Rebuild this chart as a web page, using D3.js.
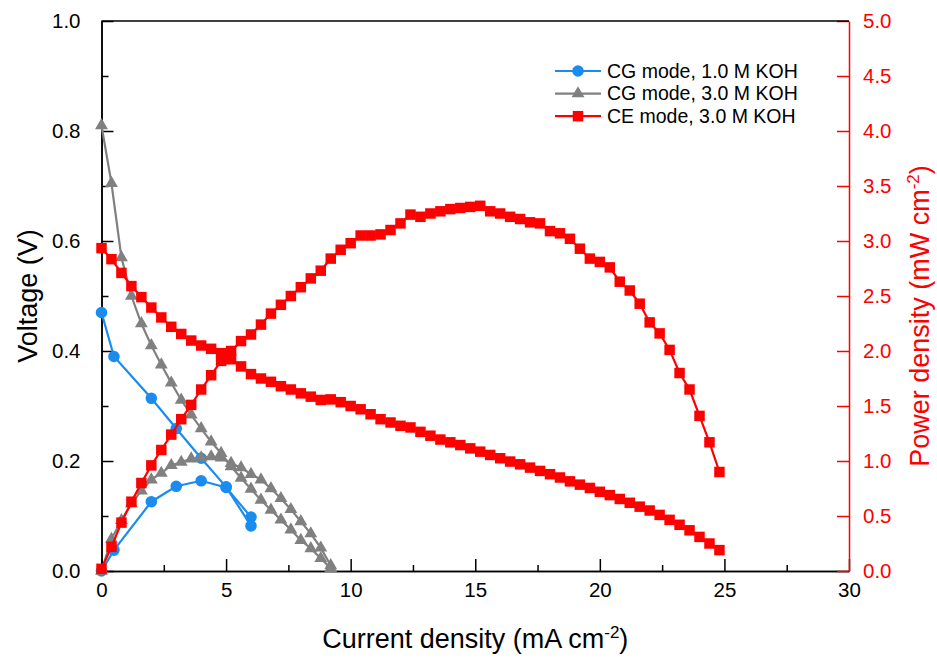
<!DOCTYPE html>
<html>
<head>
<meta charset="utf-8">
<script src="https://cdn.jsdelivr.net/npm/d3@7"></script>
<style>
  body { margin: 0; background: #fff; }
  text { font-family: "Liberation Sans", Arial, sans-serif; }
</style>
</head>
<body>
<div id="chart"></div>
<script>
// Data (current density in mA cm-2)
var blueCurrent = [0, 0.5, 2, 3, 4, 5, 6];
var blueVoltage = [0.47, 0.39, 0.314, 0.259, 0.205, 0.153, 0.082];
var bluePower = [0, 0.19, 0.63, 0.77, 0.82, 0.76, 0.49];

var grayCurrent = [0, 0.4, 0.8, 1.2, 1.6, 2.0, 2.4, 2.8, 3.2, 3.6, 4.0, 4.4, 4.8, 5.2, 5.6, 6.0, 6.4, 6.8, 7.2, 7.6, 8.0, 8.4, 8.8, 9.2];
var grayVoltage = [0.81, 0.705, 0.57, 0.50, 0.45, 0.41, 0.375, 0.342, 0.311, 0.284, 0.259, 0.235, 0.214, 0.19, 0.169, 0.149, 0.129, 0.111, 0.093, 0.075, 0.056, 0.041, 0.023, 0.005];
var grayPower = [0, 0.29, 0.46, 0.61, 0.73, 0.83, 0.89, 0.96, 0.99, 1.02, 1.03, 1.04, 1.03, 0.98, 0.94, 0.88, 0.83, 0.75, 0.66, 0.56, 0.45, 0.34, 0.21, 0.05];

var redCurrent = [0, 0.4, 0.8, 1.2, 1.6, 2.0, 2.4, 2.8, 3.2, 3.6, 4.0, 4.4, 4.8, 5.2, 5.6, 6.0, 6.4, 6.8, 7.2, 7.6,
  8.0, 8.4, 8.8, 9.2, 9.6, 10.0, 10.4, 10.8, 11.2, 11.6, 12.0, 12.4, 12.8, 13.2, 13.6, 14.0, 14.4, 14.8, 15.2, 15.6,
  16.0, 16.4, 16.8, 17.2, 17.6, 18.0, 18.4, 18.8, 19.2, 19.6, 20.0, 20.4, 20.8, 21.2, 21.6, 22.0, 22.4, 22.8, 23.2, 23.6,
  24.0, 24.4, 24.8];
var redVoltage = [0.587, 0.567, 0.542, 0.518, 0.498, 0.479, 0.461, 0.444, 0.431, 0.419, 0.410, 0.404, 0.396, 0.385, 0.372, 0.358, 0.350, 0.344, 0.336, 0.330,
  0.323, 0.317, 0.311, 0.312, 0.307, 0.300, 0.294, 0.285, 0.276, 0.270, 0.264, 0.261, 0.253, 0.246, 0.239, 0.234, 0.229, 0.223, 0.217, 0.211,
  0.205, 0.199, 0.194, 0.188, 0.182, 0.176, 0.170, 0.163, 0.157, 0.151, 0.144, 0.138, 0.131, 0.124, 0.117, 0.110, 0.102, 0.093, 0.084, 0.074,
  0.062, 0.050, 0.038];
var redPower = [0.02, 0.22, 0.44, 0.63, 0.80, 0.96, 1.10, 1.24, 1.38, 1.51, 1.65, 1.78, 1.91, 2.00, 2.09, 2.15, 2.24, 2.34, 2.42, 2.50,
  2.58, 2.66, 2.73, 2.84, 2.92, 2.98, 3.05, 3.05, 3.06, 3.10, 3.16, 3.24, 3.22, 3.25, 3.27, 3.29, 3.30, 3.31, 3.32, 3.27,
  3.25, 3.22, 3.20, 3.17, 3.16, 3.09, 3.07, 3.02, 2.93, 2.84, 2.81, 2.76, 2.63, 2.55, 2.43, 2.26, 2.16, 2.01, 1.80, 1.65,
  1.41, 1.17, 0.90];

// Tick values
var xTicks = [0, 5, 10, 15, 20, 25, 30];
var voltageTicks = [0, 0.2, 0.4, 0.6, 0.8, 1.0];
var powerTicks = [0, 0.5, 1.0, 1.5, 2.0, 2.5, 3.0, 3.5, 4.0, 4.5, 5.0];

var series = [
  {name: "CG mode, 1.0 M KOH", color: "#1a8cf0", symbol: d3.symbolCircle, size: 105, x: blueCurrent, v: blueVoltage, p: bluePower},
  {name: "CG mode, 3.0 M KOH", color: "#808080", symbol: d3.symbolTriangle, size: 72, x: grayCurrent, v: grayVoltage, p: grayPower},
  {name: "CE mode, 3.0 M KOH", color: "#ff0000", symbol: d3.symbolSquare, size: 110, x: redCurrent, v: redVoltage, p: redPower}
];

// Set svg dimensions
const width = 937;
const height = 661;
var plot = {left: 101.5, right: 849, top: 21, bottom: 571};

var svg = d3.select("#chart")
            .append("svg")
                .attr("width", width)
                .attr("height", height)
                .style("background", "#fff");

// Scales
var scaleX = d3.scaleLinear().domain([0, 30]).range([plot.left, plot.right]);
var scaleV = d3.scaleLinear().domain([0, 1]).range([plot.bottom, plot.top]);
var scaleP = d3.scaleLinear().domain([0, 5]).range([plot.bottom, plot.top]);

// Bottom axis: minor then major ticks
svg.append("g")
    .attr("transform", "translate(0," + plot.bottom + ")")
    .call(d3.axisBottom(scaleX).tickValues(d3.range(2.5, 30, 5)).tickSizeInner(-6).tickSizeOuter(0).tickFormat(""));
svg.append("g")
    .attr("class", "axisX")
    .attr("transform", "translate(0," + plot.bottom + ")")
    .call(d3.axisBottom(scaleX).tickValues(xTicks).tickSizeInner(-12).tickSizeOuter(0).tickPadding(11).tickFormat(d3.format("d")));

// Left axis
svg.append("g")
    .attr("transform", "translate(" + plot.left + ",0)")
    .call(d3.axisLeft(scaleV).tickValues(d3.range(0.1, 1, 0.2)).tickSizeInner(-7).tickSizeOuter(0).tickFormat(""));
svg.append("g")
    .attr("class", "axisY")
    .attr("transform", "translate(" + plot.left + ",0)")
    .call(d3.axisLeft(scaleV).tickValues(voltageTicks).tickSizeInner(-12).tickSizeOuter(0).tickPadding(21).tickFormat(d3.format(".1f")));

// Right axis (red)
svg.append("g")
    .attr("class", "axisP")
    .attr("transform", "translate(" + plot.right + ",0)")
    .call(d3.axisRight(scaleP).tickValues(powerTicks).tickSizeInner(-12).tickSizeOuter(0).tickPadding(14).tickFormat(d3.format(".1f")));

// Top border
svg.append("line")
    .attr("x1", plot.left).attr("x2", plot.right)
    .attr("y1", plot.top).attr("y2", plot.top)
    .attr("stroke", "#000").attr("stroke-width", 1.5);

svg.selectAll(".domain").attr("stroke-width", 1.5);
svg.selectAll(".tick line").attr("stroke-width", 1.5);
svg.selectAll(".tick text").style("font-size", "20.5px").attr("fill", "#000");
svg.selectAll(".axisP .domain, .axisP .tick line").attr("stroke", "#ff0000");
svg.selectAll(".axisP .tick text").attr("fill", "#ff0000");

// Axis titles
svg.append("text")
    .attr("x", (plot.left + plot.right) / 2)
    .attr("y", 648)
    .style("text-anchor", "middle")
    .style("font-size", "27px")
    .html("Current density (mA cm<tspan dy='-10' font-size='17px'>-2</tspan><tspan dy='10'>)</tspan>");

svg.append("text")
    .attr("transform", "translate(37," + ((plot.top + plot.bottom) / 2) + ") rotate(-90)")
    .style("text-anchor", "middle")
    .style("font-size", "27px")
    .text("Voltage (V)");

svg.append("text")
    .attr("transform", "translate(929," + ((plot.top + plot.bottom) / 2 + 20) + ") rotate(-90)")
    .style("text-anchor", "middle")
    .style("font-size", "27px")
    .attr("fill", "#ff0000")
    .html("Power density (mW cm<tspan dy='-10' font-size='17px'>-2</tspan><tspan dy='10'>)</tspan>");

// Draw one curve with line and markers
function drawCurve(s, values, scaleY) {
    var pts = s.x.map(function(d, i) { return [scaleX(d), scaleY(values[i])]; });
    svg.append("path")
        .datum(pts)
        .attr("fill", "none")
        .attr("stroke", s.color)
        .attr("stroke-width", 2.2)
        .attr("d", d3.line());
    svg.append("g")
        .selectAll("path")
        .data(pts)
        .enter()
        .append("path")
            .attr("transform", function(d) { return "translate(" + d[0] + "," + d[1] + ")"; })
            .attr("d", d3.symbol().type(s.symbol).size(s.size))
            .attr("fill", s.color);
}

series.forEach(function(s) { drawCurve(s, s.v, scaleV); });
series.forEach(function(s) { drawCurve(s, s.p, scaleP); });

// Legend
var legend = svg.append("g").attr("transform", "translate(555,71)");
series.forEach(function(s, i) {
    var row = legend.append("g").attr("transform", "translate(0," + (i * 22.6) + ")");
    row.append("line")
        .attr("x1", 0).attr("x2", 46)
        .attr("stroke", s.color).attr("stroke-width", 2.2);
    row.append("path")
        .attr("transform", "translate(23,0)")
        .attr("d", d3.symbol().type(s.symbol).size(s.size))
        .attr("fill", s.color);
    row.append("text")
        .attr("x", 52)
        .attr("dy", "0.35em")
        .style("font-size", "19.5px")
        .text(s.name);
});
</script>
</body>
</html>
